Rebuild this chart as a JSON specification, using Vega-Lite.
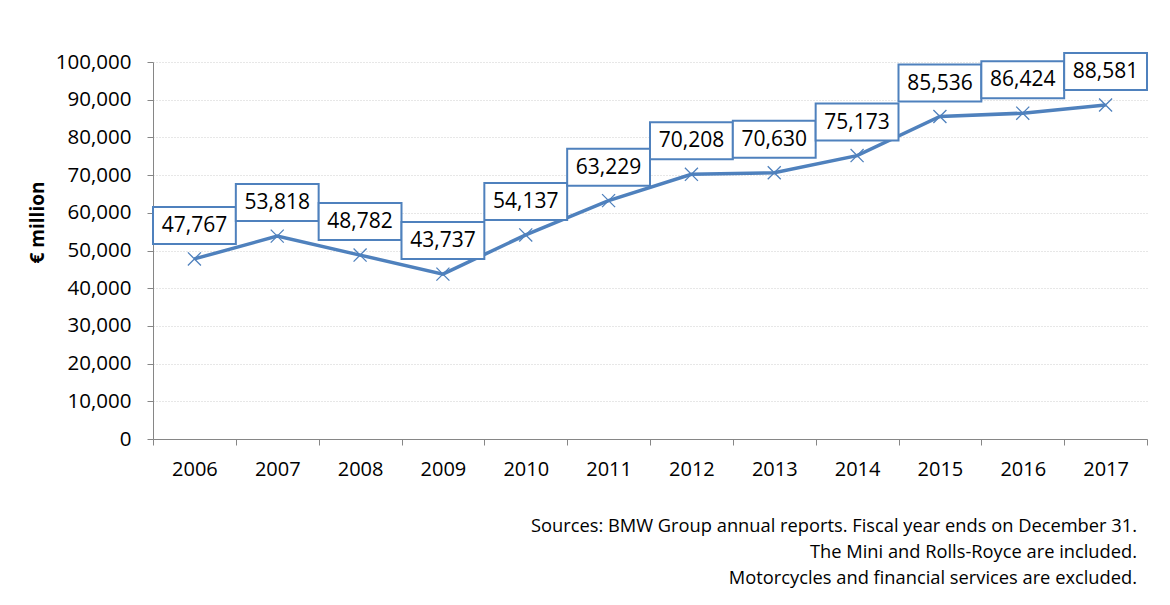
{
  "$schema": "https://vega.github.io/schema/vega-lite/v6.json",
  "width": 994,
  "height": 377,
  "autosize": {"type": "none"},
  "padding": {"left": 153, "top": 62, "right": 23, "bottom": 166},
  "background": "white",
  "config": {
    "font": "Open Sans",
    "view": {"stroke": null}
  },
  "title": {
    "text": ["Sources: BMW Group annual reports. Fiscal year ends on December 31.", "The Mini and Rolls-Royce are included.", "Motorcycles and financial services are excluded."],
    "orient": "bottom",
    "anchor": "end",
    "frame": "group",
    "align": "right",
    "dx": -10,
    "offset": 39,
    "font": "Open Sans",
    "fontSize": 18.3,
    "fontWeight": "normal",
    "lineHeight": 26,
    "color": "#000000"
  },
  "data": {
    "values": [
      {"year": "2006", "value": 47767},
      {"year": "2007", "value": 53818},
      {"year": "2008", "value": 48782},
      {"year": "2009", "value": 43737},
      {"year": "2010", "value": 54137},
      {"year": "2011", "value": 63229},
      {"year": "2012", "value": 70208},
      {"year": "2013", "value": 70630},
      {"year": "2014", "value": 75173},
      {"year": "2015", "value": 85536},
      {"year": "2016", "value": 86424},
      {"year": "2017", "value": 88581}
    ]
  },
  "encoding": {
    "x": {
      "field": "year",
      "type": "nominal",
      "scale": {"type": "band", "paddingInner": 0, "paddingOuter": 0},
      "axis": {
        "title": null,
        "labelAngle": 0,
        "labelFont": "Open Sans",
        "labelFontSize": 20,
        "labelColor": "#000000",
        "labelPadding": 14,
        "tickBand": "extent",
        "tickSize": 6,
        "tickColor": "#868686",
        "domainColor": "#868686",
        "domainWidth": 1,
        "grid": false
      }
    },
    "y": {
      "field": "value",
      "type": "quantitative",
      "scale": {"domain": [0, 100000], "nice": false},
      "axis": {
        "title": "€ million",
        "titleFont": "Open Sans",
        "titleFontSize": 19,
        "titleFontWeight": "bold",
        "titleColor": "#000000",
        "titleX": -116,
        "titleY": 160,
        "titleBaseline": "middle",
        "titleAlign": "center",
        "titleAngle": -90,
        "values": [0, 10000, 20000, 30000, 40000, 50000, 60000, 70000, 80000, 90000, 100000],
        "labelExpr": "format(datum.value, ',')",
        "labelFont": "Open Sans",
        "labelFontSize": 20.5,
        "labelColor": "#000000",
        "labelPadding": 16,
        "tickSize": 6,
        "tickColor": "#868686",
        "domainColor": "#868686",
        "grid": true,
        "gridColor": "#cfcfcf",
        "gridDash": [1, 2],
        "gridWidth": 1
      }
    }
  },
  "layer": [
    {
      "mark": {"type": "line", "color": "#4f81bd", "strokeWidth": 3.5}
    },
    {
      "mark": {
        "type": "point",
        "shape": "M-1,-1L1,1M-1,1L1,-1",
        "size": 170,
        "filled": false,
        "stroke": "#4f81bd",
        "strokeWidth": 1.3,
        "opacity": 1
      }
    },
    {
      "mark": {
        "type": "rect",
        "fill": "white",
        "stroke": "#4f81bd",
        "strokeWidth": 2,
        "yOffset": -52,
        "y2Offset": -15
      },
      "encoding": {
        "y2": {"field": "value"}
      }
    },
    {
      "mark": {
        "type": "text",
        "font": "Open Sans",
        "fontSize": 21,
        "color": "#000000",
        "baseline": "middle",
        "align": "center",
        "yOffset": -33
      },
      "encoding": {
        "text": {"field": "value", "type": "quantitative", "format": ","}
      }
    }
  ]
}
